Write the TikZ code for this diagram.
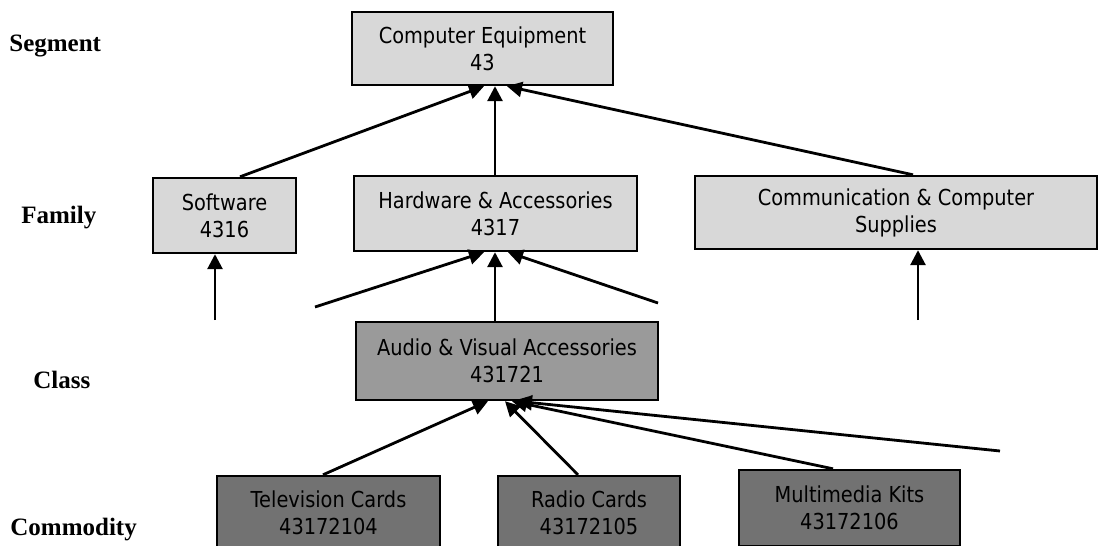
\documentclass[tikz,border=0pt]{standalone}
\usepackage{fontspec}
\setmainfont{Liberation Serif}
\newfontfamily\boxfont[FakeStretch=0.88]{DejaVu Sans}
\usetikzlibrary{arrows.meta,calc}
\definecolor{segfill}{HTML}{D8D8D8}
\definecolor{clsfill}{HTML}{9A9A9A}
\definecolor{comfill}{HTML}{727272}

\begin{document}
\begin{tikzpicture}[x=0.5pt,y=-0.5pt,
  lvl/.style={font=\bfseries\fontsize{12.5}{15}\selectfont, anchor=base west, inner sep=0},
  cat/.style={draw=black, line width=1.2pt, align=center, inner sep=0,
              font=\boxfont\fontsize{11}{13.5}\selectfont},
  upper/.style={cat, fill=segfill},
  mid/.style={cat, fill=clsfill},
  lower/.style={cat, fill=comfill},
  link/.style={line width=1.4pt, -{Triangle[length=7.5pt,width=7.5pt]}},
]
\clip (0,0) rectangle (1099,546);
\fill[white] (0,0) rectangle (1099,546);

% level names
\node[lvl] (lseg) at (9,51)   {Segment};
\node[lvl] (lfam) at (21,223) {Family};
\node[lvl] (lcls) at (33,388) {Class};
\node[lvl] (lcom) at (10,535) {Commodity};

% segment
\node[upper, minimum width=130.5pt, minimum height=36.5pt] (ce) at (482.5,48.5)
  {Computer Equipment\\43};

% families
\node[upper, minimum width=71.5pt, minimum height=37.5pt] (sw) at (224.5,215.5)
  {Software\\4316};
\node[upper, minimum width=141.5pt, minimum height=37.5pt] (hw) at (495.5,213.5)
  {Hardware \& Accessories\\4317};
\node[upper, minimum width=201pt, minimum height=36.5pt] (ccs) at (896,212.5)
  {Communication \& Computer\\Supplies};

% class
\node[mid, minimum width=151pt, minimum height=39pt] (cls) at (507,361)
  {Audio \& Visual Accessories\\431721};

% commodities
\node[lower, minimum width=111.5pt, minimum height=37pt] (tv) at (328.5,513)
  {Television Cards\\43172104};
\node[lower, minimum width=91pt, minimum height=37pt] (rc) at (589,513)
  {Radio Cards\\43172105};
\node[lower, minimum width=110.5pt, minimum height=38pt] (mm) at (849.5,508)
  {Multimedia Kits\\43172106};

% loose ends of connectors
\coordinate (f1) at (315,307);
\coordinate (f2) at (658,303);
\coordinate (f3) at (215,320);
\coordinate (f4) at (918,320);
\coordinate (f5) at (1000,451);

% family -> segment
\draw[link] ($(sw.north)+(15.5,0)$) -- ($(ce.south)+(1.5,0)$);
\draw[link] ($(hw.north)+(-0.5,0)$) -- ($(ce.south)+(12.5,0)$);
\draw[link] ($(ccs.north)+(17,0)$) -- ($(ce.south)+(24.5,0)$);

% class -> family
\draw[link] (f1) -- ($(hw.south)+(-11.5,0)$);
\draw[link] ($(cls.north)+(-12,0)$) -- ($(hw.south)+(-0.5,0)$);
\draw[link] (f2) -- ($(hw.south)+(12.5,0)$);
\draw[link] (f3) -- ($(sw.south)+(-9.5,0)$);
\draw[link] (f4) -- ($(ccs.south)+(22,0)$);

% commodity -> class
\draw[link] ($(tv.north)+(-5.5,0)$) -- ($(cls.south)+(-19,0)$);
\draw[link] ($(rc.north)+(-11,0)$) -- ($(cls.south)+(-2,0)$);
\draw[link] ($(mm.north)+(-16.5,0)$) -- ($(cls.south)+(5,0)$);
\draw[link] (f5) -- ($(cls.south)+(10,0)$);
\end{tikzpicture}
\end{document}
